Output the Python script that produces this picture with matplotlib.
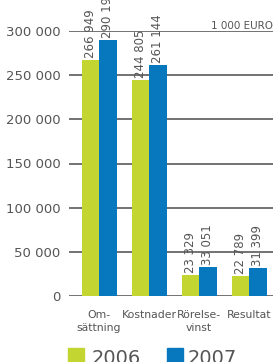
import matplotlib
matplotlib.use("Agg")
import matplotlib.pyplot as plt
from matplotlib.patches import Rectangle
from matplotlib import font_manager

categories = ["Om-\nsättning", "Kostnader", "Rörelse-\nvinst", "Resultat"]
years = ["2006", "2007"]
values_2006 = [266949, 244805, 23329, 22789]
values_2007 = [290190, 261144, 33051, 31399]
yticks = [0, 50000, 100000, 150000, 200000, 250000, 300000]

green = "#c3d531"
blue = "#0878be"
gray = "#555555"

names = {f.name for f in font_manager.fontManager.ttflist}
fam = "Liberation Sans Narrow" if "Liberation Sans Narrow" in names else "DejaVu Sans"
plt.rcParams["font.family"] = [fam, "DejaVu Sans"]

fig = plt.figure(figsize=(2.73, 3.62), dpi=100)
ax = fig.add_axes([69/273, (362-296)/362, 204/273, (296-31)/362])

def fmt(v):
    return f"{v:,}".replace(",", " ")

x = list(range(len(categories)))
w = 0.35
b1 = ax.bar([i - w/2 for i in x], values_2006, width=w, color=green, zorder=3)
b2 = ax.bar([i + w/2 for i in x], values_2007, width=w, color=blue, zorder=3)
for bars, vals in ((b1, values_2006), (b2, values_2007)):
    for r, v in zip(bars, vals):
        ax.annotate(fmt(v), (r.get_x() + r.get_width()/2, v), xytext=(0, 1.5),
                    textcoords="offset points", rotation=90, ha="center", va="bottom",
                    fontsize=8.5, color=gray, clip_on=False, zorder=4)

ax.set_xlim(-0.6, 3.48)
ax.set_ylim(0, 300000)
ax.set_yticks(yticks)
ax.set_yticklabels([fmt(v) for v in yticks], fontsize=9.5, color=gray)
for v in yticks:
    ax.axhline(v, color="#5a5a5a", lw=1.2, zorder=2)
ax.set_xticks(x)
ax.set_xticklabels(categories, fontsize=7.8, color=gray, linespacing=1.35)
ax.tick_params(axis="x", length=0, pad=10)
ax.tick_params(axis="y", length=0, pad=6)
for s in ax.spines.values():
    s.set_visible(False)

ax.text(1.0, 300000, "1 000 EURO", transform=ax.get_yaxis_transform(), ha="right",
        va="bottom", fontsize=7.5, color=gray)

# legend
fig.patches.append(Rectangle((68/273, 0), 16/273, 14/362, transform=fig.transFigure,
                             color=green, figure=fig))
fig.text(92/273, 3/362, years[0], fontsize=14, color=gray, va="center", ha="left")
fig.patches.append(Rectangle((167/273, 0), 16/273, 14/362, transform=fig.transFigure,
                             color=blue, figure=fig))
fig.text(188/273, 3/362, years[1], fontsize=14, color=gray, va="center", ha="left")

fig.savefig("out.png", dpi=100)
